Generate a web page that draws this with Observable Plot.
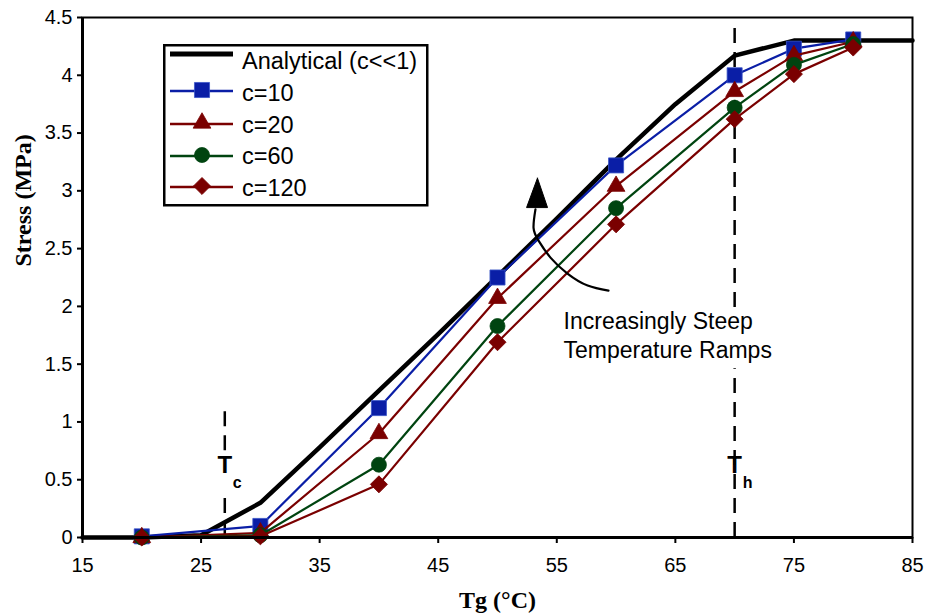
<!DOCTYPE html>
<html>
<head>
<meta charset="utf-8">
<script src="https://cdn.jsdelivr.net/npm/d3@7"></script>
<script src="https://cdn.jsdelivr.net/npm/@observablehq/plot@0.6"></script>
<style>
  body { margin: 0; background: #fff; }
  #wrap { position: relative; width: 928px; height: 615px; }
  #legend { position: absolute; left: 163px; top: 44px; }
</style>
</head>
<body>
<div id="wrap"></div>
<script>
// ---- data ----
const analyticalX = [15, 20, 25, 30, 35, 40, 45, 50, 55, 60, 65, 70, 75, 80, 85];
const analyticalY = [0, 0.0, 0.02, 0.30, 0.78, 1.27, 1.76, 2.26, 2.76, 3.27, 3.75, 4.17, 4.30, 4.30, 4.30];

const tgX = [20, 30, 40, 50, 60, 70, 75, 80];
const c10  = [0.01, 0.10, 1.12, 2.25, 3.22, 4.00, 4.23, 4.31];
const c20  = [0.00, 0.04, 0.90, 2.07, 3.04, 3.86, 4.17, 4.29];
const c60  = [0.00, 0.02, 0.63, 1.83, 2.85, 3.72, 4.09, 4.27];
const c120 = [0.00, 0.01, 0.46, 1.69, 2.71, 3.62, 4.01, 4.24];

const seriesNames = ["c=10", "c=20", "c=60", "c=120"];
const seriesValues = [c10, c20, c60, c120];
const seriesColors = ["#0a1ea6", "#7a0000", "#004410", "#7a0000"];
const seriesSymbols = ["square", "triangle", "circle", "diamond"];

const xTicks = [15, 25, 35, 45, 55, 65, 75, 85];
const yTicks = [0, 0.5, 1, 1.5, 2, 2.5, 3, 3.5, 4, 4.5];

// dashed temperature markers, split where labels sit
const tc = 27, th = 70;
const markerX  = [tc, tc, th, th];
const markerY1 = [0, 0.75, 0, 1.99];
const markerY2 = [0.38, 1.14, 1.46, 4.43];

// annotation arrow (data units)
const arrowCurveX = [59.36, 57.6, 55.9, 54.47, 53.46, 53.04, 53.2];
const arrowCurveY = [2.137, 2.18, 2.284, 2.422, 2.569, 2.68, 2.84];
const arrowHeadX = [53.37, 52.45, 54.22, 53.37];
const arrowHeadY = [3.11, 2.855, 2.855, 3.11];
const noteLines = ["Increasingly Steep", "Temperature Ramps"];
const noteX = 55.57, noteY = [1.808, 1.557];

// ---- build tables ----
const analytical = analyticalX.map((x, i) => ({x, y: analyticalY[i]}));
const series = seriesNames.map((name, k) => ({
  name, color: seriesColors[k], symbol: seriesSymbols[k],
  data: tgX.map((x, i) => ({x, y: seriesValues[k][i]}))
}));
const markers = markerX.map((x, i) => ({x, y1: markerY1[i], y2: markerY2[i]}));
const arrowCurve = arrowCurveX.map((x, i) => ({x, y: arrowCurveY[i]}));
const arrowHead = arrowHeadX.map((x, i) => ({x, y: arrowHeadY[i]}));

const sans = "'Liberation Sans', Arial, sans-serif";
const serif = "'Liberation Serif', 'Times New Roman', serif";

const rOf = s => s === "square" ? 8.5 : s === "triangle" ? 6.6 : s === "circle" ? 7.5 : 6.8;

const seriesMarks = series.flatMap(s => {
  const isDiamond = s.symbol === "diamond";
  return [
    Plot.line(s.data, {x: "x", y: "y", stroke: s.color, strokeWidth: 2.2}),
    Plot.dot(s.data, {
      x: "x", y: "y",
      symbol: isDiamond ? "square" : s.symbol,
      rotate: isDiamond ? 45 : 0,
      r: rOf(s.symbol),
      fill: s.color,
      stroke: s.symbol === "square" ? "#3a55c8" : s.color,
      strokeWidth: 0.8
    })
  ];
});

const chart = Plot.plot({
  width: 928,
  height: 615,
  marginLeft: 82,
  marginRight: 16,
  marginTop: 17,
  marginBottom: 78,
  style: {fontFamily: sans, fontSize: "20px", color: "#000", background: "#fff"},
  x: {domain: [15, 85]},
  y: {domain: [0, 4.5]},
  marks: [
    // dashed reference lines
    Plot.ruleX(markers, {x: "x", y1: "y1", y2: "y2", stroke: "#000", strokeWidth: 2.5, strokeDasharray: "15,9"}),
    Plot.text([tc, th], {x: d => d, y: 0.56, text: () => "T", fontWeight: "bold", fontSize: 24,
      textAnchor: "middle", lineAnchor: "bottom", fill: "#000"}),
    Plot.text([{x: tc, t: "c"}, {x: th, t: "h"}], {x: "x", y: 0.43, text: "t", dx: 8, fontWeight: "bold", fontSize: 16,
      textAnchor: "start", lineAnchor: "bottom", fill: "#000"}),
    // analytical curve
    Plot.line(analytical, {x: "x", y: "y", stroke: "#000", strokeWidth: 4.5}),
    ...seriesMarks,
    // annotation arrow
    Plot.line(arrowCurve, {x: "x", y: "y", curve: "natural", stroke: "#000", strokeWidth: 2.2}),
    Plot.line(arrowHead, {x: "x", y: "y", fill: "#000", stroke: "#000", strokeWidth: 1}),
    Plot.text(noteLines, {x: noteX, y: (d, i) => noteY[i], text: d => d, textAnchor: "start",
      lineAnchor: "bottom", fontSize: 23, fill: "#000"}),
    // frame & axes
    Plot.frame({stroke: "#000", strokeWidth: 2}),
    Plot.ruleX([15], {stroke: "#000", strokeWidth: 3}),
    Plot.ruleY([0], {stroke: "#000", strokeWidth: 3}),
    Plot.axisX({ticks: xTicks, tickSize: 6, tickPadding: 14, strokeWidth: 2, label: null,
      tickFormat: d => String(d), fontSize: 20}),
    Plot.axisY({ticks: yTicks, tickSize: 5, tickPadding: 5, strokeWidth: 2, label: null,
      tickFormat: d => String(d), fontSize: 20}),
    // axis titles
    Plot.text(["Tg (°C)"], {frameAnchor: "bottom", dy: 70, lineAnchor: "bottom", fontFamily: serif,
      fontWeight: "bold", fontSize: 24, fill: "#000"}),
    Plot.text(["Stress (MPa)"], {frameAnchor: "left", dx: -59, dy: -11, rotate: -90, fontFamily: serif,
      fontWeight: "bold", fontSize: 24, fill: "#000"})
  ]
});

const wrap = document.getElementById("wrap");
wrap.appendChild(chart);

// ---- legend (inside plot area) ----
const leg = d3.select(wrap).append("svg")
  .attr("id", "legend").attr("width", 266).attr("height", 163)
  .style("font-family", sans).style("font-size", "23.5px");
leg.append("rect").attr("x", 1.25).attr("y", 1.25).attr("width", 263).attr("height", 160)
  .attr("fill", "#fff").attr("stroke", "#000").attr("stroke-width", 2.5);

const rowY = [10, 46, 79, 111, 142];
const rowBase = [25, 57, 89, 120, 152];
leg.append("line").attr("x1", 7).attr("x2", 70).attr("y1", rowY[0]).attr("y2", rowY[0])
  .attr("stroke", "#000").attr("stroke-width", 5);
leg.append("text").attr("x", 79).attr("y", rowBase[0]).text("Analytical (c<<1)");

const symMap = {square: d3.symbolSquare, triangle: d3.symbolTriangle, circle: d3.symbolCircle, diamond: d3.symbolSquare};
series.forEach((s, k) => {
  const y = rowY[k + 1];
  leg.append("line").attr("x1", 7).attr("x2", 70).attr("y1", y + 1).attr("y2", y + 1)
    .attr("stroke", s.color).attr("stroke-width", 2.5);
  const r = rOf(s.symbol);
  leg.append("path")
    .attr("d", d3.symbol(symMap[s.symbol], Math.PI * r * r)())
    .attr("transform", `translate(39,${y})` + (s.symbol === "diamond" ? " rotate(45)" : ""))
    .attr("fill", s.color)
    .attr("stroke", s.symbol === "square" ? "#3a55c8" : s.color).attr("stroke-width", 0.8);
  leg.append("text").attr("x", 79).attr("y", rowBase[k + 1]).text(s.name);
});
</script>
</body>
</html>
